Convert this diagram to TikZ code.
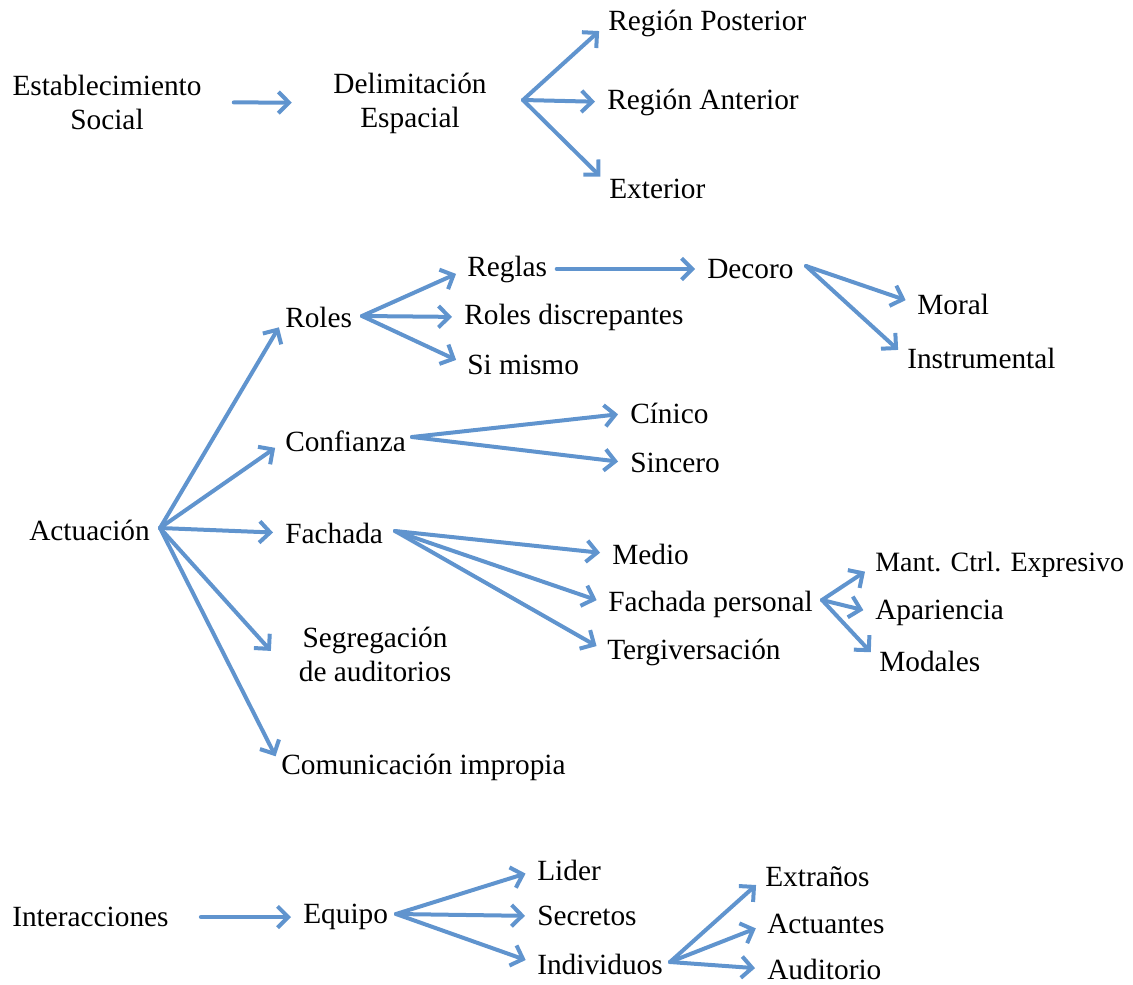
\documentclass[tikz,border=0pt]{standalone}
\usepackage{fontspec}
\setmainfont{Liberation Serif}
\usepackage{xcolor}
\usetikzlibrary{arrows.meta, positioning}

\definecolor{arrowblue}{RGB}{96,148,206}

\begin{document}
\begin{tikzpicture}[x=0.75pt, y=-0.75pt,
			>={Straight Barb[length=8pt, width=16pt]},
			arr/.style={->, draw=arrowblue, line width=3pt, line cap=round, line join=round, shorten >=9pt},
			concept/.style={inner sep=0pt, anchor=west, font=\fontsize{22}{25.5}\selectfont},
			twoline/.style={concept, anchor=center, align=center}]

			\useasboundingbox (0,0) rectangle (1133,985);

			% establecimiento social
			\node[twoline] (est) at (107,102) {Establecimiento\\Social};
			\node[twoline] (delim) at (410,103) {Delimitación\\Espacial};
			\node[concept] (post) at (608,23) {Región Posterior};
			\node[concept] (ant) at (607,102) {Región Anterior};
			\node[concept] (ext) at (609,189) {Exterior};
			\coordinate (delimF) at (523,100);

			\draw[arr, shorten <=24pt, shorten >=31pt] (est) -- (delim);
			\draw[arr] (delimF) -- (post.west);
			\draw[arr] (delimF) -- (ant.west);
			\draw[arr] (delimF) -- ([yshift=3pt]ext.west);

			% actuacion
			\node[concept] (act) at (29,530) {Actuación};
			\node[concept] (roles) at (285,317) {Roles};
			\node[concept] (conf) at (285,441) {Confianza};
			\node[concept] (fach) at (285,533) {Fachada};
			\node[twoline] (seg) at (375,654) {Segregación\\de auditorios};
			\node[concept] (com) at (281,767) {Comunicación impropia};
			\coordinate (actF) at (160,528);

			\draw[arr] (actF) -- (roles.west);
			\draw[arr] (actF) -- (conf.west);
			\draw[arr] (actF) -- (fach.west);
			\draw[arr, shorten >=31pt] (actF) -- (seg.south west);
			\draw[arr] (actF) -- (com.west);

			% roles
			\node[concept] (reglas) at (467,269) {Reglas};
			\node[concept] (disc) at (464,317) {Roles discrepantes};
			\node[concept] (simismo) at (467,365) {Si mismo};
			\node[concept] (decoro) at (707,269) {Decoro};
			\node[concept] (moral) at (917,304) {Moral};
			\node[concept] (instr) at (907,358) {Instrumental};
			\coordinate (rolesF) at (362,316);
			\coordinate (decoroF) at (806,266);

			\draw[arr] (rolesF) -- (reglas.west);
			\draw[arr] (rolesF) -- (disc.west);
			\draw[arr] (rolesF) -- (simismo.west);
			\draw[arr, shorten <=7pt] (reglas) -- (decoro);
			\draw[arr] (decoroF) -- (moral.west);
			\draw[arr] (decoroF) -- (instr.west);

			% confianza
			\node[concept] (cinico) at (630,413) {Cínico};
			\node[concept] (sincero) at (630,463) {Sincero};
			\coordinate (confF) at (412,437);

			\draw[arr] (confF) -- (cinico.west);
			\draw[arr] (confF) -- (sincero.west);

			% fachada
			\node[concept] (medio) at (612,554) {Medio};
			\node[concept] (fpers) at (608,604) {Fachada personal};
			\node[concept] (terg) at (607,652) {Tergiversación};
			\node[concept, font=\fontsize{21}{25.5}\selectfont] (mant) at (875,565) {Mant. Ctrl. Expresivo};
			\node[concept] (apar) at (875,613) {Apariencia};
			\node[concept] (modales) at (879,661) {Modales};
			\coordinate (fachF) at (395,531);
			\coordinate (fpersF) at (822,600);

			\draw[arr] (fachF) -- (medio.west);
			\draw[arr] (fachF) -- (fpers.west);
			\draw[arr] (fachF) -- (terg.west);
			\draw[arr] (fpersF) -- (mant.west);
			\draw[arr] (fpersF) -- (apar.west);
			\draw[arr] (fpersF) -- (modales.west);

			% interacciones
			\node[concept] (inter) at (12,917) {Interacciones};
			\node[concept] (equipo) at (303,917) {Equipo};
			\node[concept] (lider) at (537,870) {Lider};
			\node[concept] (secretos) at (537,916) {Secretos};
			\node[concept] (indiv) at (537,964) {Individuos};
			\node[concept] (extr) at (765,877) {Extraños};
			\node[concept] (actu) at (767,924) {Actuantes};
			\node[concept] (audi) at (767,969) {Auditorio};
			\coordinate (equipoF) at (396,914);
			\coordinate (indivF) at (670,962);

			\draw[arr, shorten <=24pt] (inter) -- (equipo);
			\draw[arr] (equipoF) -- (lider.west);
			\draw[arr] (equipoF) -- (secretos.west);
			\draw[arr] (equipoF) -- (indiv.west);
			\draw[arr] (indivF) -- (extr.west);
			\draw[arr] (indivF) -- (actu.west);
			\draw[arr] (indivF) -- (audi.west);
		\end{tikzpicture}
\end{document}
